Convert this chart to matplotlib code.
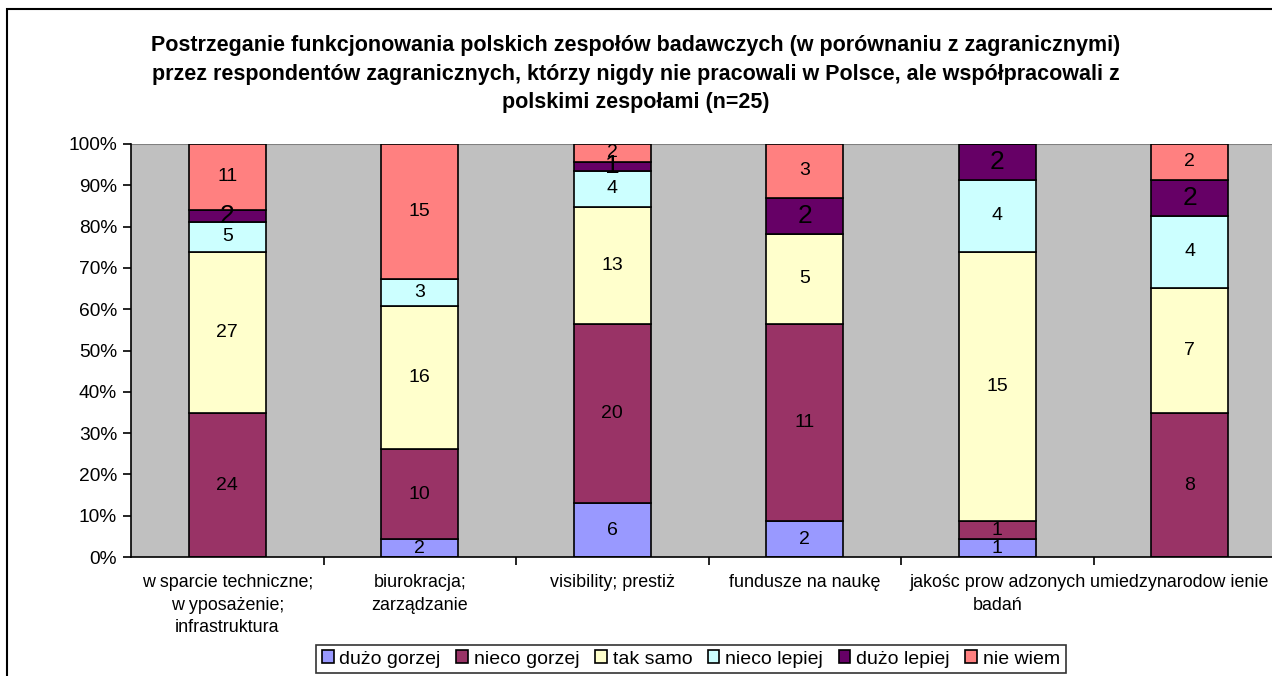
import numpy as np
import matplotlib.pyplot as plt
from matplotlib.patches import Rectangle
from matplotlib.transforms import ScaledTranslation

plt.rcParams['font.family'] = ['Liberation Sans', 'DejaVu Sans']

categories = ["w sparcie techniczne;\nw yposażenie;\ninfrastruktura",
              "biurokracja;\nzarządzanie",
              "visibility; prestiż",
              "fundusze na naukę",
              "jakośc prow adzonych\nbadań",
              "umiedzynarodow ienie"]
series_names = ["dużo gorzej", "nieco gorzej", "tak samo",
                "nieco lepiej", "dużo lepiej", "nie wiem"]
duzo_gorzej = [0, 2, 6, 2, 1, 0]
nieco_gorzej = [24, 10, 20, 11, 1, 8]
tak_samo = [27, 16, 13, 5, 15, 7]
nieco_lepiej = [5, 3, 4, 0, 4, 4]
duzo_lepiej = [2, 0, 1, 2, 2, 2]
nie_wiem = [11, 15, 2, 3, 0, 2]
colors = ["#9999FF", "#993366", "#FFFFCC", "#CCFFFF", "#660066", "#FF8080"]
yticks = np.arange(0, 101, 10)

data = np.array([duzo_gorzej, nieco_gorzej, tak_samo,
                 nieco_lepiej, duzo_lepiej, nie_wiem], dtype=float)
totals = data.sum(axis=0)
pct = data / totals * 100

fig = plt.figure(figsize=(12.72, 6.76), dpi=100)
ax = fig.add_axes([131/1272, 119/676, 1155/1272, 413/676])
ax.set_facecolor("#C0C0C0")

x = np.arange(len(categories))
bottom = np.zeros(len(categories))
for i in range(len(series_names)):
    ax.bar(x, pct[i], 0.4, bottom=bottom, color=colors[i], edgecolor="black",
           linewidth=1.2, label=series_names[i], zorder=2)
    for j in range(len(categories)):
        if data[i, j] > 0:
            size = 19 if i == 4 else 14
            ax.text(x[j], bottom[j] + pct[i, j] / 2, "%d" % data[i, j],
                    ha="center", va="center", fontsize=size, zorder=3)
    bottom += pct[i]

ax.set_xlim(-0.5, len(categories) - 0.5)
ax.set_ylim(0, 100)
ax.set_yticks(yticks)
ax.set_yticklabels(["%d%%" % t for t in yticks], fontsize=13.8)
ax.set_xticks(x)
ax.set_xticklabels(categories, fontsize=12.9, linespacing=1.45, va="top")
ax.set_xticks(np.arange(0.5, len(categories) - 0.5), minor=True)
ax.tick_params(axis="x", which="major", length=0, pad=12)
ax.tick_params(axis="x", which="minor", length=6, direction="out", width=1.2)
ax.tick_params(axis="y", length=6, direction="out", width=1.2, pad=4)
# last label would run past the edge, nudge it left
last = ax.get_xticklabels()[-1]
last.set_transform(last.get_transform() + ScaledTranslation(-0.11, 0, fig.dpi_scale_trans))
for side in ["top", "right"]:
    ax.spines[side].set_visible(False)
ax.spines["left"].set_linewidth(1.2)
ax.spines["bottom"].set_linewidth(1.2)
ax.axhline(100, color="#808080", linewidth=1.5, zorder=1)

fig.text(0.5, 1 - 35/676,
         "Postrzeganie funkcjonowania polskich zespołów badawczych (w porównaniu z zagranicznymi)\n"
         "przez respondentów zagranicznych, którzy nigdy nie pracowali w Polsce, ale współpracowali z\n"
         "polskimi zespołami (n=25)",
         ha="center", va="top", fontsize=15.5, fontweight="bold", linespacing=1.48)

leg = fig.legend(loc="center", bbox_to_anchor=(691/1272, 1 - 659/676), ncol=6,
                 fontsize=14, frameon=True, fancybox=False, handlelength=0.6,
                 handleheight=0.6, handletextpad=0.3, columnspacing=0.8,
                 borderpad=0.3, borderaxespad=0)
leg.get_frame().set_edgecolor("black")
leg.get_frame().set_linewidth(1.2)

# outer chart frame
fig.patches.append(Rectangle((7/1272, -0.05), 1.1, 1 - 9/676 + 0.05,
                             transform=fig.transFigure, fill=False,
                             edgecolor="black", linewidth=1.5))

fig.savefig("out.png", dpi=100)
